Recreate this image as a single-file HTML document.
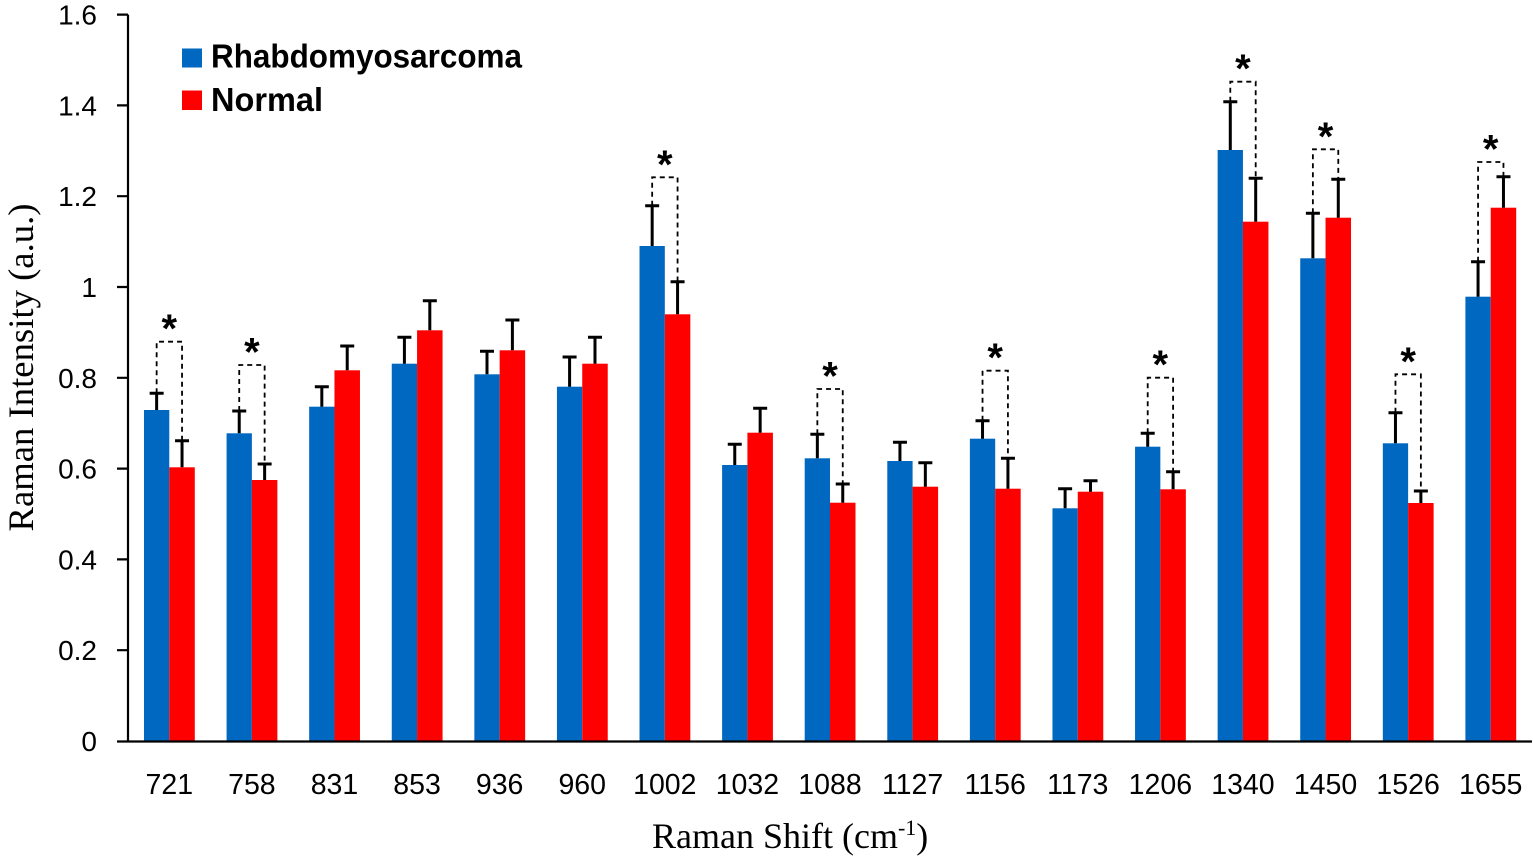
<!DOCTYPE html>
<html>
<head>
<meta charset="utf-8">
<style>
  html, body { margin: 0; padding: 0; background: #ffffff; }
  body { width: 1534px; height: 867px; overflow: hidden; }
  svg { display: block; }
  .tick { font-family: "Liberation Sans", Arial, sans-serif; font-size: 28px; fill: #000; }
  .xl { font-family: "Liberation Sans", Arial, sans-serif; font-size: 28.5px; fill: #000; }
  .leg { font-family: "Liberation Sans", Arial, sans-serif; font-size: 33px; font-weight: bold; fill: #000; }
  .ttl { font-family: "Liberation Serif", "Times New Roman", serif; font-size: 36px; fill: #000; }
  .ast { font-family: "Liberation Sans", Arial, sans-serif; font-size: 40px; font-weight: bold; fill: #000; }
</style>
</head>
<body>
<svg width="1534" height="867" viewBox="0 0 1534 867" xmlns="http://www.w3.org/2000/svg">
  <rect x="0" y="0" width="1534" height="867" fill="#ffffff"/>

  <!-- Blue bars (Rhabdomyosarcoma) -->
  <g fill="#0068C0">
    <rect x="143.99" y="410" width="25.3" height="331"/>
    <rect x="226.58" y="433.3" width="25.3" height="307.7"/>
    <rect x="309.17" y="406.7" width="25.3" height="334.3"/>
    <rect x="391.76" y="363.7" width="25.3" height="377.3"/>
    <rect x="474.35" y="374.3" width="25.3" height="366.7"/>
    <rect x="556.94" y="386.7" width="25.3" height="354.3"/>
    <rect x="639.52" y="246" width="25.3" height="495"/>
    <rect x="722.11" y="465" width="25.3" height="276"/>
    <rect x="804.7" y="458.3" width="25.3" height="282.7"/>
    <rect x="887.29" y="461" width="25.3" height="280"/>
    <rect x="969.88" y="438.7" width="25.3" height="302.3"/>
    <rect x="1052.46" y="508.3" width="25.3" height="232.7"/>
    <rect x="1135.05" y="446.7" width="25.3" height="294.3"/>
    <rect x="1217.64" y="150" width="25.3" height="591"/>
    <rect x="1300.23" y="258.3" width="25.3" height="482.7"/>
    <rect x="1382.82" y="443.3" width="25.3" height="297.7"/>
    <rect x="1465.41" y="296.7" width="25.3" height="444.3"/>
  </g>

  <!-- Red bars (Normal) -->
  <g fill="#FF0000">
    <rect x="169.29" y="467.3" width="25.5" height="273.7"/>
    <rect x="251.88" y="480" width="25.5" height="261"/>
    <rect x="334.47" y="370.3" width="25.5" height="370.7"/>
    <rect x="417.06" y="330.3" width="25.5" height="410.7"/>
    <rect x="499.65" y="350.3" width="25.5" height="390.7"/>
    <rect x="582.24" y="363.7" width="25.5" height="377.3"/>
    <rect x="664.82" y="314.3" width="25.5" height="426.7"/>
    <rect x="747.41" y="432.7" width="25.5" height="308.3"/>
    <rect x="830" y="502.7" width="25.5" height="238.3"/>
    <rect x="912.59" y="486.7" width="25.5" height="254.3"/>
    <rect x="995.18" y="488.7" width="25.5" height="252.3"/>
    <rect x="1077.76" y="491.7" width="25.5" height="249.3"/>
    <rect x="1160.35" y="489.3" width="25.5" height="251.7"/>
    <rect x="1242.94" y="221.7" width="25.5" height="519.3"/>
    <rect x="1325.53" y="217.7" width="25.5" height="523.3"/>
    <rect x="1408.12" y="503" width="25.5" height="238"/>
    <rect x="1490.71" y="207.7" width="25.5" height="533.3"/>
  </g>

  <!-- Significance brackets (dashed) -->
  <path fill="none" stroke="#000" stroke-width="1.8" stroke-dasharray="5,4" d="
    M156.64 393.3V341.7H182.04V440.7
    M239.23 411V365H264.63V464
    M652.17 205.7V177.3H677.57V281.7
    M817.35 434.3V389H842.75V484
    M982.53 420.7V370.7H1007.93V458.3
    M1147.7 433.3V377.7H1173.1V471.7
    M1230.29 101.7V81.7H1255.69V178.3
    M1312.88 213.3V149.3H1338.28V179.3
    M1395.47 412.7V374.3H1420.87V491
    M1478.06 261.7V162H1503.46V176.7"/>

  <!-- Error bars -->
  <path fill="none" stroke="#000" stroke-width="3" d="
    M156.64 410V393.3M149.64 393.3H163.64 M182.04 467.3V440.7M175.04 440.7H189.04
    M239.23 433.3V411M232.23 411H246.23 M264.63 480V464M257.63 464H271.63
    M321.82 406.7V386.7M314.82 386.7H328.82 M347.22 370.3V346M340.22 346H354.22
    M404.41 363.7V337.3M397.41 337.3H411.41 M429.81 330.3V300.7M422.81 300.7H436.81
    M487 374.3V351.3M480 351.3H494 M512.4 350.3V320M505.4 320H519.4
    M569.59 386.7V357M562.59 357H576.59 M594.99 363.7V337.3M587.99 337.3H601.99
    M652.17 246V205.7M645.17 205.7H659.17 M677.57 314.3V281.7M670.57 281.7H684.57
    M734.76 465V444.3M727.76 444.3H741.76 M760.16 432.7V408.3M753.16 408.3H767.16
    M817.35 458.3V434.3M810.35 434.3H824.35 M842.75 502.7V484M835.75 484H849.75
    M899.94 461V442.3M892.94 442.3H906.94 M925.34 486.7V462.7M918.34 462.7H932.34
    M982.53 438.7V420.7M975.53 420.7H989.53 M1007.93 488.7V458.3M1000.93 458.3H1014.93
    M1065.11 508.3V488.7M1058.11 488.7H1072.11 M1090.51 491.7V480.7M1083.51 480.7H1097.51
    M1147.7 446.7V433.3M1140.7 433.3H1154.7 M1173.1 489.3V471.7M1166.1 471.7H1180.1
    M1230.29 150V101.7M1223.29 101.7H1237.29 M1255.69 221.7V178.3M1248.69 178.3H1262.69
    M1312.88 258.3V213.3M1305.88 213.3H1319.88 M1338.28 217.7V179.3M1331.28 179.3H1345.28
    M1395.47 443.3V412.7M1388.47 412.7H1402.47 M1420.87 503V491M1413.87 491H1427.87
    M1478.06 296.7V261.7M1471.06 261.7H1485.06 M1503.46 207.7V176.7M1496.46 176.7H1510.46"/>

  <!-- Asterisks -->
  <g class="ast" text-anchor="middle">
    <text x="169.29" y="342">*</text>
    <text x="251.88" y="365.5">*</text>
    <text x="664.82" y="177.8">*</text>
    <text x="830" y="389.5">*</text>
    <text x="995.18" y="371.2">*</text>
    <text x="1160.35" y="378.2">*</text>
    <text x="1242.94" y="82.2">*</text>
    <text x="1325.53" y="149.8">*</text>
    <text x="1408.12" y="374.8">*</text>
    <text x="1490.71" y="162.5">*</text>
  </g>

  <!-- Axes -->
  <path fill="none" stroke="#000" stroke-width="2.2" d="
    M128 14.6V741.5
    M117 741.5H1532
    M117 14.6H128 M117 105.4H128 M117 196.2H128 M117 287H128
    M117 377.8H128 M117 468.6H128 M117 559.4H128 M117 650.2H128"/>

  <!-- Y tick labels -->
  <g class="tick" text-anchor="end">
    <text x="97" y="751">0</text>
    <text x="97" y="660.2">0.2</text>
    <text x="97" y="569.4">0.4</text>
    <text x="97" y="478.6">0.6</text>
    <text x="97" y="387.8">0.8</text>
    <text x="97" y="297">1</text>
    <text x="97" y="206.2">1.2</text>
    <text x="97" y="115.4">1.4</text>
    <text x="97" y="24.6">1.6</text>
  </g>

  <!-- X tick labels -->
  <g class="xl" text-anchor="middle">
    <text x="169.29" y="794">721</text>
    <text x="251.88" y="794">758</text>
    <text x="334.47" y="794">831</text>
    <text x="417.06" y="794">853</text>
    <text x="499.65" y="794">936</text>
    <text x="582.24" y="794">960</text>
    <text x="664.82" y="794">1002</text>
    <text x="747.41" y="794">1032</text>
    <text x="830" y="794">1088</text>
    <text x="912.59" y="794">1127</text>
    <text x="995.18" y="794">1156</text>
    <text x="1077.76" y="794">1173</text>
    <text x="1160.35" y="794">1206</text>
    <text x="1242.94" y="794">1340</text>
    <text x="1325.53" y="794">1450</text>
    <text x="1408.12" y="794">1526</text>
    <text x="1490.71" y="794">1655</text>
  </g>

  <!-- Legend -->
  <rect x="182" y="48.5" width="20" height="19" fill="#0068C0"/>
  <text class="leg" x="211" y="67.7" textLength="311" lengthAdjust="spacingAndGlyphs">Rhabdomyosarcoma</text>
  <rect x="182" y="90.5" width="20" height="19.5" fill="#FF0000"/>
  <text class="leg" x="211" y="111" textLength="112" lengthAdjust="spacingAndGlyphs">Normal</text>

  <!-- Axis titles -->
  <text class="ttl" x="652" y="848">Raman Shift (cm<tspan font-size="22" dy="-13">-1</tspan><tspan dy="13">)</tspan></text>
  <text class="ttl" transform="translate(33,367.5) rotate(-90)" text-anchor="middle" textLength="328" lengthAdjust="spacingAndGlyphs">Raman Intensity (a.u.)</text>
</svg>
</body>
</html>
